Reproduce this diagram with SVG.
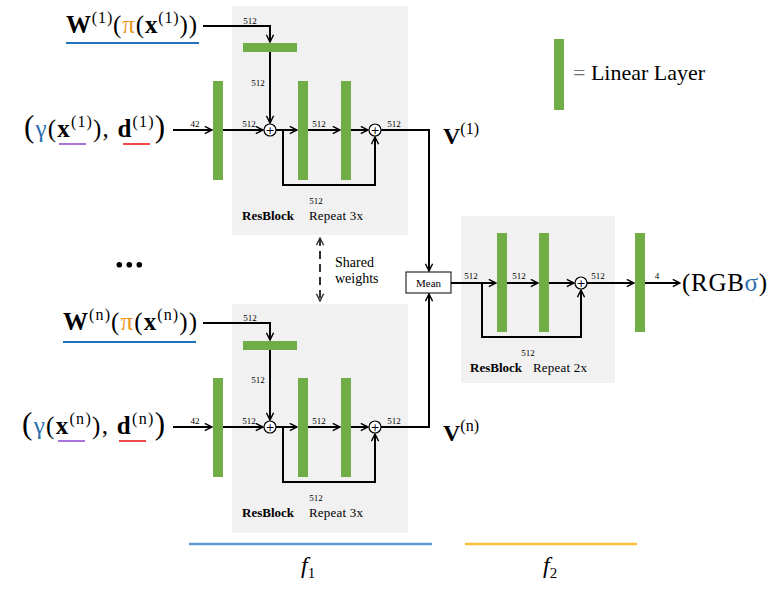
<svg xmlns="http://www.w3.org/2000/svg" width="774" height="589" viewBox="0 0 774 589">
<style>
text{font-family:"Liberation Serif","DejaVu Serif",serif;fill:#000}
.lbl{font-size:9px;text-anchor:middle}
.big{font-size:25px}
.sup{font-size:16px}
.b{font-weight:bold}
.rb{font-size:13px}
.bar{fill:#70ad47}
.blk{fill:#f1f1f1}
.con{fill:none;stroke:#000;stroke-width:2;marker-end:url(#arr)}
.plus{fill:#fff;stroke:#000;stroke-width:1.2}
.pt{font-family:"DejaVu Sans",sans-serif;font-size:11px;text-anchor:middle}
</style>
<defs>
<marker id="arr" viewBox="0 0 10 10" refX="9" refY="5" markerWidth="9" markerHeight="9" orient="auto" markerUnits="userSpaceOnUse">
<path d="M1,1 L9,5 L1,9" fill="none" stroke="#000" stroke-width="1.6"/>
</marker>
<marker id="arrs" viewBox="0 0 10 10" refX="9" refY="5" markerWidth="9" markerHeight="9" orient="auto-start-reverse" markerUnits="userSpaceOnUse">
<path d="M1,1 L9,5 L1,9" fill="none" stroke="#333" stroke-width="1.6"/>
</marker>
</defs>
<rect width="774" height="589" fill="#fff"/>

<!-- blocks -->
<g id="block1">
<rect class="blk" x="232" y="6" width="176" height="229"/>
<rect class="bar" x="243" y="43" width="54" height="9"/>
<rect class="bar" x="298" y="81" width="10" height="99"/>
<rect class="bar" x="341" y="81" width="10" height="99"/>
<text class="lbl" x="250" y="24">512</text>
<text class="lbl" x="258" y="86">512</text>
<text class="lbl" x="249" y="127">512</text>
<text class="lbl" x="319" y="127">512</text>
<text class="lbl" x="394" y="127">512</text>
<text class="lbl" x="316" y="204">512</text>
<text class="rb" x="242" y="220"><tspan class="b">ResBlock</tspan></text>
<text class="rb" x="309" y="220" textLength="54">Repeat 3x</text>
</g>
<g id="block2">
<rect class="blk" x="232" y="304" width="176" height="229"/>
<rect class="bar" x="243" y="341" width="54" height="9"/>
<rect class="bar" x="298" y="378" width="10" height="99"/>
<rect class="bar" x="341" y="378" width="10" height="99"/>
<text class="lbl" x="250" y="321">512</text>
<text class="lbl" x="258" y="383">512</text>
<text class="lbl" x="249" y="424">512</text>
<text class="lbl" x="319" y="424">512</text>
<text class="lbl" x="394" y="424">512</text>
<text class="lbl" x="316" y="501">512</text>
<text class="rb" x="242" y="517"><tspan class="b">ResBlock</tspan></text>
<text class="rb" x="309" y="517" textLength="54">Repeat 3x</text>
</g>
<g id="block3">
<rect class="blk" x="461" y="216" width="154" height="167"/>
<rect class="bar" x="497" y="233" width="10" height="99"/>
<rect class="bar" x="539" y="233" width="10" height="99"/>
<text class="lbl" x="471" y="279">512</text>
<text class="lbl" x="519" y="279">512</text>
<text class="lbl" x="598" y="279">512</text>
<text class="lbl" x="528" y="356">512</text>
<text class="rb" x="470" y="372"><tspan class="b">ResBlock</tspan></text>
<text class="rb" x="533" y="372" textLength="54">Repeat 2x</text>
</g>

<!-- input linear layers -->
<g id="lin1"><rect class="bar" x="213" y="81" width="10" height="99"/><text class="lbl" x="195" y="127">42</text></g>
<g id="lin2"><rect class="bar" x="213" y="378" width="10" height="99"/><text class="lbl" x="195" y="424">42</text></g>
<g id="linOut"><rect class="bar" x="635" y="233" width="10" height="99"/><text class="lbl" x="657" y="279">4</text></g>

<!-- connectors -->
<g id="connectors">
<path class="con" d="M203,26 H270 V42"/>
<path class="con" d="M270,52 V123"/>
<path class="con" d="M173,130 H212"/>
<path class="con" d="M223,130 H263"/>
<path class="con" d="M276,130 H297"/>
<path class="con" d="M283,130 V185 H375 V137"/>
<path class="con" d="M308,130 H340"/>
<path class="con" d="M351,130 H368"/>
<path class="con" d="M381,130 H429 V271"/>

<path class="con" d="M203,323 H270 V340"/>
<path class="con" d="M270,350 V420"/>
<path class="con" d="M173,427 H212"/>
<path class="con" d="M223,427 H263"/>
<path class="con" d="M276,427 H297"/>
<path class="con" d="M283,427 V482 H375 V434"/>
<path class="con" d="M308,427 H340"/>
<path class="con" d="M351,427 H368"/>
<path class="con" d="M381,427 H429 V294"/>

<path class="con" d="M451,283 H496"/>
<path class="con" d="M482,283 V337 H581 V290"/>
<path class="con" d="M507,283 H538"/>
<path class="con" d="M549,283 H574"/>
<path class="con" d="M587,283 H634"/>
<path class="con" d="M645,283 H680"/>

<path d="M320,238 V301" fill="none" stroke="#333" stroke-width="2" stroke-dasharray="8,5" marker-start="url(#arrs)" marker-end="url(#arrs)"/>
</g>

<!-- adders -->
<g id="add1a"><circle class="plus" cx="270" cy="130" r="6"/><text class="pt" x="270" y="134">+</text></g>
<g id="add1b"><circle class="plus" cx="375" cy="130" r="6"/><text class="pt" x="375" y="134">+</text></g>
<g id="add2a"><circle class="plus" cx="270" cy="427" r="6"/><text class="pt" x="270" y="431">+</text></g>
<g id="add2b"><circle class="plus" cx="375" cy="427" r="6"/><text class="pt" x="375" y="431">+</text></g>
<g id="add3"><circle class="plus" cx="581" cy="283" r="6"/><text class="pt" x="581" y="287">+</text></g>

<!-- mean -->
<g id="mean">
<rect x="406" y="272" width="45" height="21" fill="#fff" stroke="#000" stroke-width="1"/>
<text x="428.5" y="286.5" font-size="11" text-anchor="middle">Mean</text>
</g>

<!-- inputs -->
<g id="w1">
<text class="big" x="66" y="33" textLength="131"><tspan class="b">W</tspan><tspan class="sup" dy="-10">(1)</tspan><tspan dy="10">(</tspan><tspan fill="#e8961e">π</tspan>(<tspan class="b">x</tspan><tspan class="sup" dy="-10">(1)</tspan><tspan dy="10">))</tspan></text>
<line x1="66" y1="43" x2="199" y2="43" stroke="#1f72b8" stroke-width="2.2"/>
</g>
<g id="in1">
<text class="big" x="24" y="137" textLength="141"><tspan font-size="31">(</tspan><tspan fill="#2a6fb0">γ</tspan>(<tspan class="b">x</tspan><tspan class="sup" dy="-10">(1)</tspan><tspan dy="10">),  </tspan><tspan class="b">d</tspan><tspan class="sup" dy="-10">(1)</tspan><tspan dy="10" font-size="31">)</tspan></text>
<line x1="59" y1="144" x2="86" y2="144" stroke="#a873d9" stroke-width="2"/>
<line x1="123" y1="144" x2="150" y2="144" stroke="#f04848" stroke-width="2"/>
</g>
<g id="wn">
<text class="big" x="63" y="330" textLength="134"><tspan class="b">W</tspan><tspan class="sup" dy="-10">(n)</tspan><tspan dy="10">(</tspan><tspan fill="#e8961e">π</tspan>(<tspan class="b">x</tspan><tspan class="sup" dy="-10">(n)</tspan><tspan dy="10">))</tspan></text>
<line x1="63" y1="342" x2="196" y2="342" stroke="#1f72b8" stroke-width="2.2"/>
</g>
<g id="inn">
<text class="big" x="22" y="434" textLength="143"><tspan font-size="31">(</tspan><tspan fill="#2a6fb0">γ</tspan>(<tspan class="b">x</tspan><tspan class="sup" dy="-10">(n)</tspan><tspan dy="10">),  </tspan><tspan class="b">d</tspan><tspan class="sup" dy="-10">(n)</tspan><tspan dy="10" font-size="31">)</tspan></text>
<line x1="58" y1="441" x2="85" y2="441" stroke="#a873d9" stroke-width="2"/>
<line x1="119" y1="441" x2="146" y2="441" stroke="#f04848" stroke-width="2"/>
</g>
<g id="ellipsis">
<circle cx="119.3" cy="264.7" r="2.8"/><circle cx="129.3" cy="264.7" r="2.8"/><circle cx="139.3" cy="264.7" r="2.8"/>
</g>

<!-- outputs -->
<g id="v1"><text x="443" y="144" font-size="24"><tspan class="b">V</tspan><tspan font-size="16" dy="-10">(1)</tspan></text></g>
<g id="vn"><text x="443" y="441" font-size="24"><tspan class="b">V</tspan><tspan font-size="16" dy="-10">(n)</tspan></text></g>
<g id="rgb"><text x="682" y="291" font-size="25" textLength="85">(RGB<tspan fill="#2a6fb0">σ</tspan>)</text></g>

<g id="shared">
<text x="335" y="267" font-size="14">Shared</text>
<text x="335" y="283" font-size="14">weights</text>
</g>

<g id="legend">
<rect class="bar" x="554" y="39" width="10" height="71"/>
<text x="573" y="80" font-size="22"><tspan fill="#777">=</tspan> <tspan>Linear Layer</tspan></text>
</g>

<g id="f1">
<line x1="189" y1="544" x2="432" y2="544" stroke="#5b9bd5" stroke-width="2.5"/>
<text x="301" y="573" font-size="24" font-style="italic">f<tspan font-size="15" font-style="normal" dy="5">1</tspan></text>
</g>
<g id="f2">
<line x1="465" y1="544" x2="637" y2="544" stroke="#fbbf3a" stroke-width="2.5"/>
<text x="543" y="573" font-size="24" font-style="italic">f<tspan font-size="15" font-style="normal" dy="5">2</tspan></text>
</g>
</svg>
